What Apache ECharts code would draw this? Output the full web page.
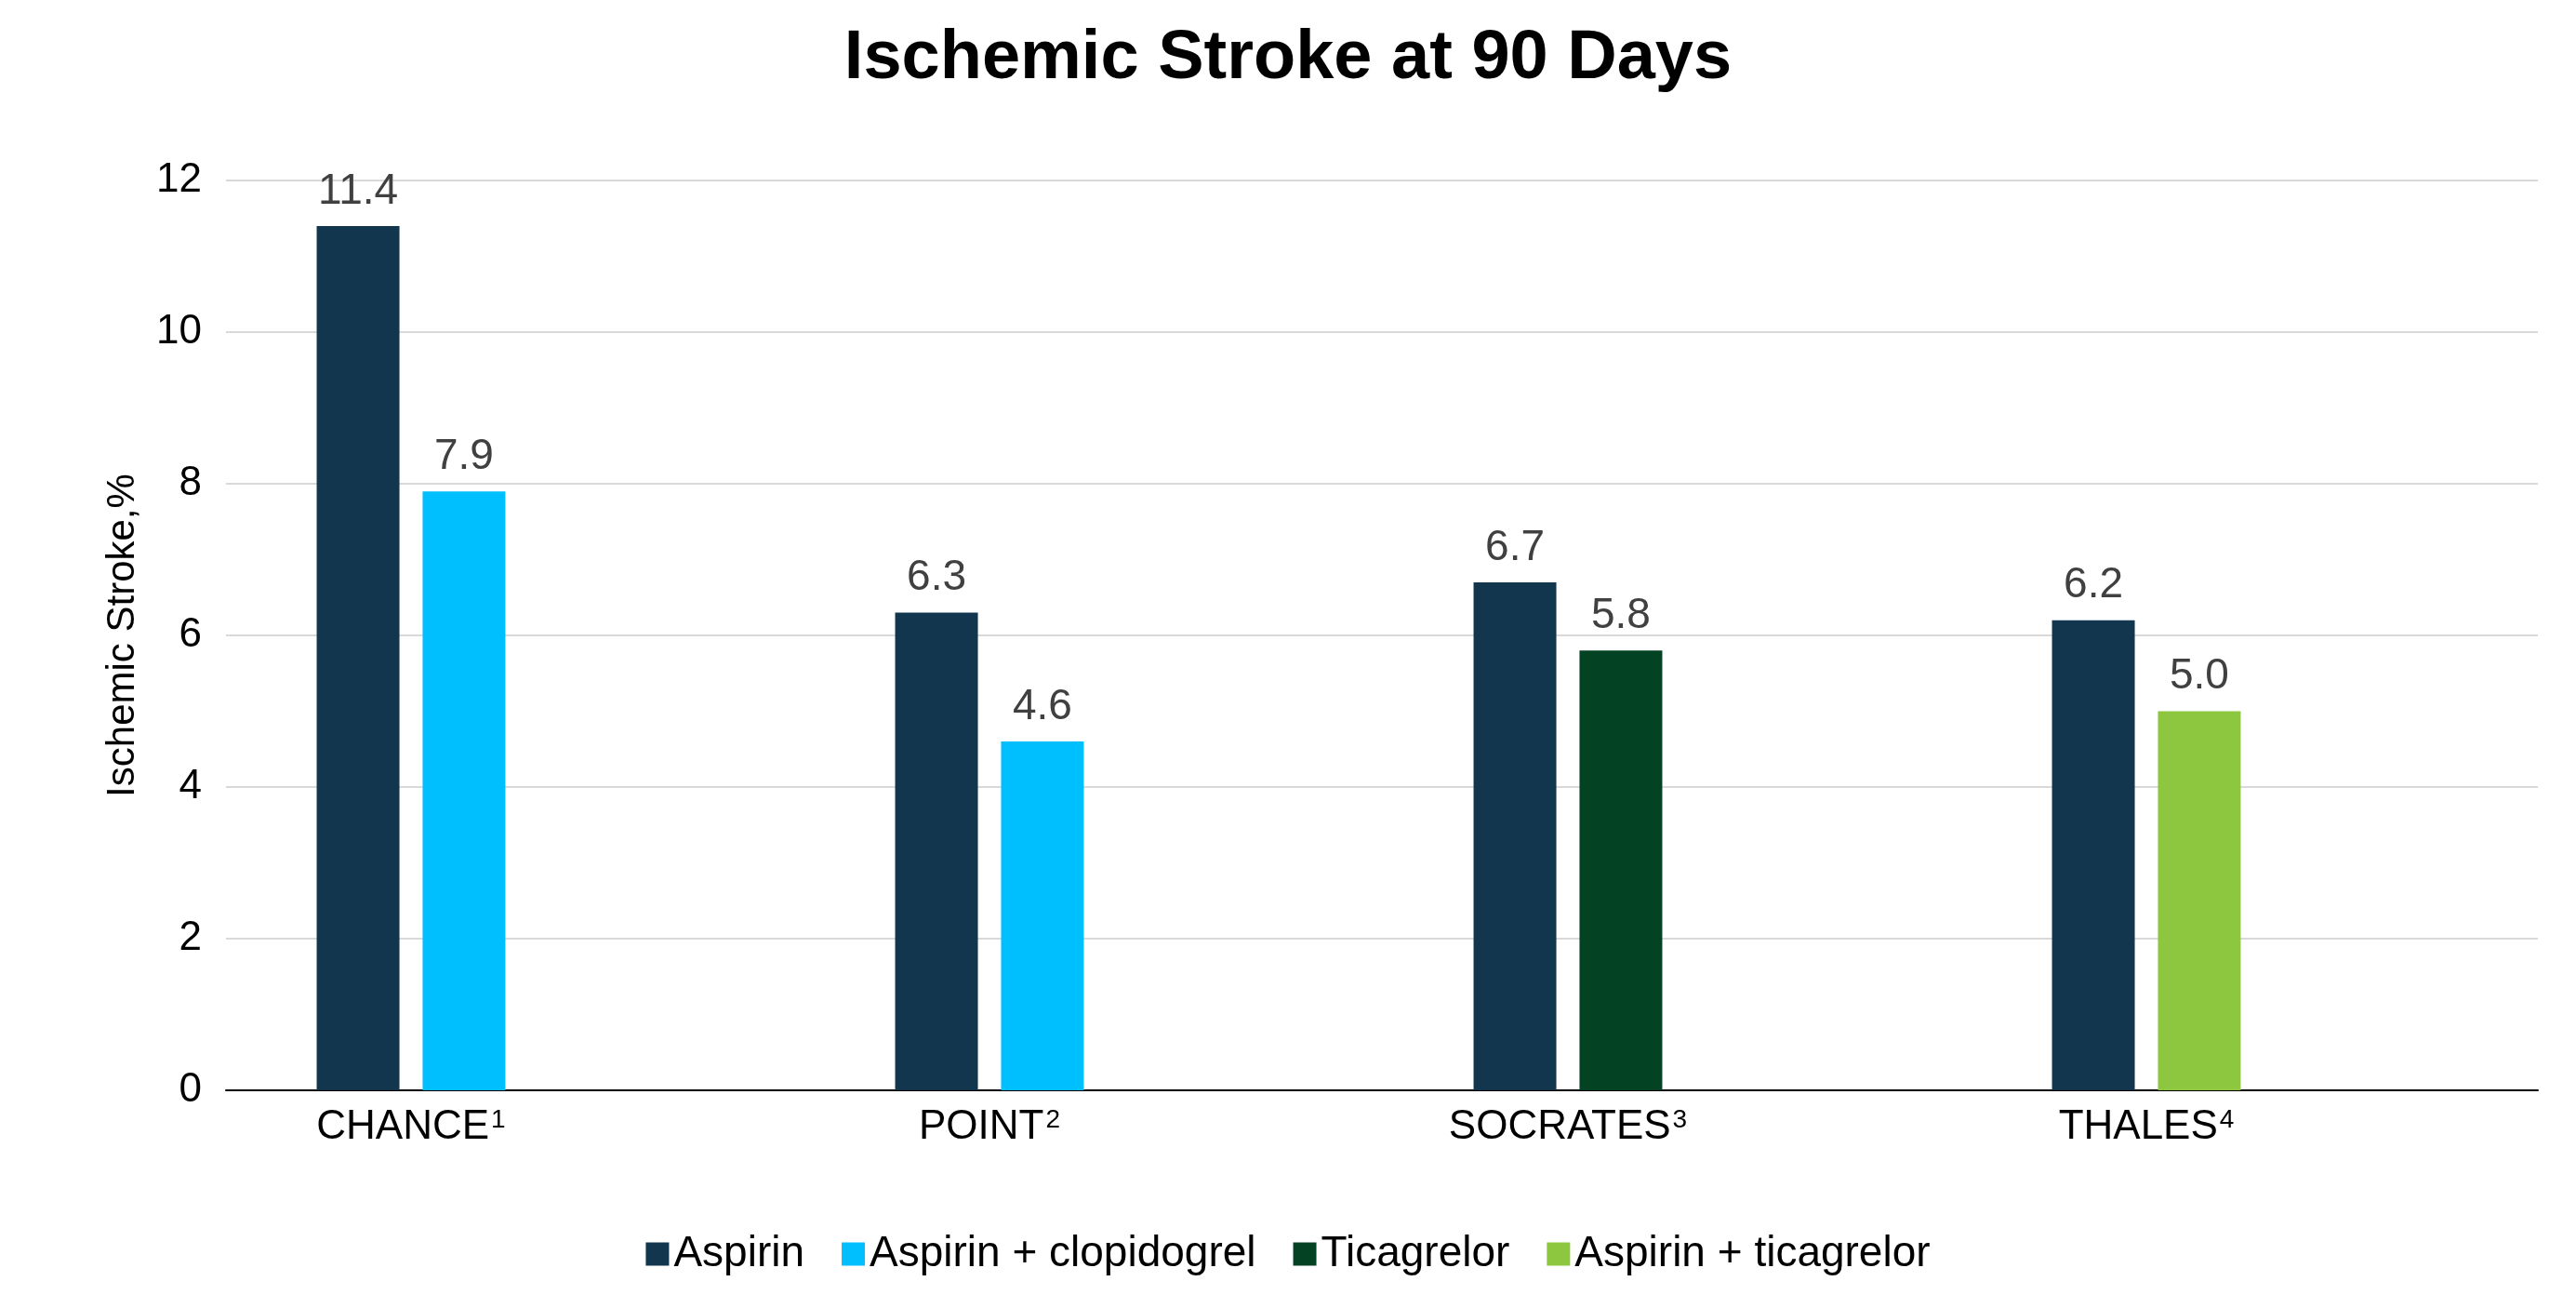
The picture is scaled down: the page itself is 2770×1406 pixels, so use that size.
<!DOCTYPE html>
<html lang="en" style="height: 100%">
<head>
  <meta charset="utf-8">
</head>
<body style="height: 100%; margin: 0; background: #fff">
  <div id="container" style="height: 100%"></div>
  <script type="text/javascript" src="https://fastly.jsdelivr.net/npm/echarts@6/dist/echarts.min.js"></script>
  <script type="text/javascript">
    var trials = ['CHANCE', 'POINT', 'SOCRATES', 'THALES'];
    var refs = ['1', '2', '3', '4'];
    var aspirin = [11.4, 6.3, 6.7, 6.2];
    var aspirinClopidogrel = [7.9, 4.6, '-', '-'];
    var ticagrelor = ['-', '-', 5.8, '-'];
    var aspirinTicagrelor = ['-', '-', '-', 5.0];
    var yTicks = [0, 2, 4, 6, 8, 10, 12];

    var dom = document.getElementById('container');
    var myChart = echarts.init(dom, null, { renderer: 'canvas' });
    var font = 'Liberation Sans, Arial, sans-serif';

    var label = {
      show: true,
      position: 'top',
      distance: 14,
      color: '#404040',
      fontSize: 46,
      fontFamily: font,
      formatter: function (p) { return p.value.toFixed(1); }
    };

    function bar(name, data, color, stack) {
      return {
        name: name,
        type: 'bar',
        data: data,
        stack: stack,
        xAxisIndex: 0,
        yAxisIndex: 0,
        barWidth: 89,
        barGap: '28%',
        itemStyle: { color: color },
        label: label
      };
    }

    var option = {
      backgroundColor: '#fff',
      animation: false,
      title: {
        text: 'Ischemic Stroke at 90 Days',
        left: 'center',
        top: 22,
        textStyle: { fontSize: 74, fontWeight: 'bold', color: '#000', fontFamily: font }
      },
      legend: {
        bottom: 30,
        left: 'center',
        itemWidth: 25,
        itemHeight: 25,
        itemGap: 40,
        icon: 'rect',
        textStyle: { fontSize: 46, color: '#000', fontFamily: font }
      },
      grid: [
        { left: 131, right: 151, top: 194, bottom: 234 },
        { left: 243, right: 41, top: 194, bottom: 234 }
      ],
      xAxis: [
        {
          type: 'category',
          gridIndex: 0,
          data: trials,
          axisLine: { show: false },
          axisTick: { show: false },
          axisLabel: {
            margin: 18,
            fontFamily: font,
            formatter: function (v, i) { return '{m|' + v + '}{s|' + refs[i] + '}'; },
            rich: {
              m: { fontSize: 44, color: '#000', fontFamily: font },
              s: { fontSize: 28, color: '#000', fontFamily: font, padding: [0, 0, 16, 2] }
            }
          }
        },
        {
          type: 'category',
          gridIndex: 1,
          data: [''],
          axisLine: { show: true, lineStyle: { color: '#000', width: 2 } },
          axisTick: { show: false },
          axisLabel: { show: false }
        }
      ],
      yAxis: [
        {
          type: 'value', gridIndex: 0, min: 0, max: 12, interval: 2,
          show: false, splitLine: { show: false }
        },
        {
          type: 'value', gridIndex: 1, min: yTicks[0], max: yTicks[yTicks.length - 1], interval: 2,
          name: 'Ischemic Stroke,%',
          nameLocation: 'middle',
          nameGap: 90,
          nameTextStyle: { fontSize: 42, color: '#000', fontFamily: font },
          axisLine: { show: false },
          axisTick: { show: false },
          axisLabel: { fontSize: 44, color: '#000', fontFamily: font, margin: 26 },
          splitLine: { lineStyle: { color: '#d9d9d9', width: 2 } }
        }
      ],
      series: [
        bar('Aspirin', aspirin, '#11364d'),
        bar('Aspirin + clopidogrel', aspirinClopidogrel, '#00bfff', 'partner'),
        bar('Ticagrelor', ticagrelor, '#034223', 'partner'),
        bar('Aspirin + ticagrelor', aspirinTicagrelor, '#8dc63f', 'partner')
      ]
    };

    myChart.setOption(option);
    window.addEventListener('resize', myChart.resize);
  </script>
</body>
</html>
